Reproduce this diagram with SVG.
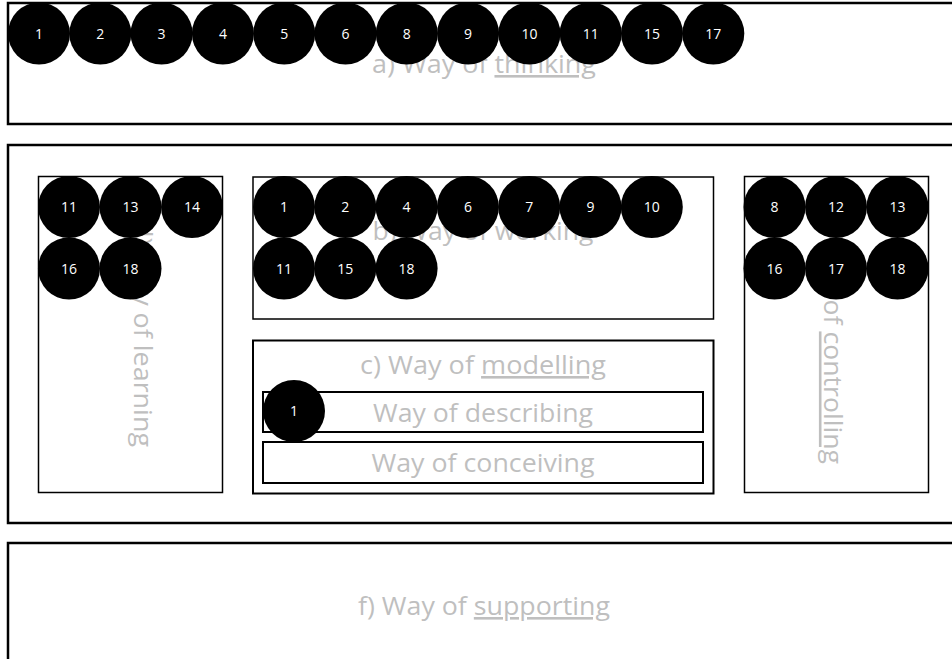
<svg xmlns="http://www.w3.org/2000/svg" width="952" height="659" viewBox="0 0 952 659">
<style>
.outer{fill:none;stroke:#000;stroke-width:2.5}
.inner{fill:#fff;stroke:#000;stroke-width:1.5}
.sub{fill:none;stroke:#000;stroke-width:2}
.lbl{font-family:"Open Sans","Noto Sans","Liberation Sans",sans-serif;font-size:26px;fill:#bfbfbf;text-anchor:middle}
.u{text-decoration:underline}
.dot{fill:#000}
.num{font-family:"Open Sans","Noto Sans","Liberation Sans",sans-serif;font-size:14px;fill:#fff;text-anchor:middle}
</style>
<rect width="952" height="659" fill="#fff"/>

<g id="a-thinking">
<rect class="outer" x="8" y="3" width="960" height="121"/>
<text class="lbl" x="484" y="73" textLength="224" lengthAdjust="spacingAndGlyphs">a) Way of <tspan class="u">thinking</tspan></text>
</g>

<g id="outer-middle">
<rect class="outer" x="8" y="145" width="960" height="378"/>
</g>

<g id="d-learning">
<rect class="inner" x="38.5" y="176.5" width="184" height="316"/>
<text class="lbl" transform="translate(134,334) rotate(90)" x="0" y="0" textLength="226" lengthAdjust="spacingAndGlyphs">d) Way of learning</text>
</g>

<g id="b-working">
<rect class="inner" x="253" y="177" width="460.5" height="142"/>
<text class="lbl" x="483" y="240" textLength="221" lengthAdjust="spacingAndGlyphs">b) Way of working</text>
</g>

<g id="c-modelling">
<rect class="inner" x="253" y="340.5" width="460.5" height="153" style="stroke-width:2"/>
<text class="lbl" x="483" y="374" textLength="246" lengthAdjust="spacingAndGlyphs">c) Way of <tspan class="u">modelling</tspan></text>
</g>

<g id="describing">
<rect class="sub" x="263" y="392" width="440" height="40"/>
<text class="lbl" x="483" y="421.5" textLength="220" lengthAdjust="spacingAndGlyphs">Way of describing</text>
</g>

<g id="conceiving">
<rect class="sub" x="263" y="442" width="440" height="41"/>
<text class="lbl" x="483" y="472" textLength="223" lengthAdjust="spacingAndGlyphs">Way of conceiving</text>
</g>

<g id="e-controlling">
<rect class="inner" x="744.5" y="176.5" width="184" height="316"/>
<text class="lbl" transform="translate(823.5,337) rotate(90)" x="0" y="0" textLength="254" lengthAdjust="spacingAndGlyphs">e) Way of <tspan class="u">controlling</tspan></text>
</g>

<g id="f-supporting">
<rect class="outer" x="8" y="543" width="960" height="130"/>
<text class="lbl" x="484" y="615" textLength="252" lengthAdjust="spacingAndGlyphs">f) Way of <tspan class="u">supporting</tspan></text>
</g>

<g id="connectors"></g>

<g id="markers-thinking">
<g id="t1"><circle class="dot" cx="39" cy="33.5" r="31"/><text class="num" x="39" y="38.5">1</text></g>
<g id="t2"><circle class="dot" cx="100.3" cy="33.5" r="31"/><text class="num" x="100.3" y="38.5">2</text></g>
<g id="t3"><circle class="dot" cx="161.6" cy="33.5" r="31"/><text class="num" x="161.6" y="38.5">3</text></g>
<g id="t4"><circle class="dot" cx="222.9" cy="33.5" r="31"/><text class="num" x="222.9" y="38.5">4</text></g>
<g id="t5"><circle class="dot" cx="284.2" cy="33.5" r="31"/><text class="num" x="284.2" y="38.5">5</text></g>
<g id="t6"><circle class="dot" cx="345.5" cy="33.5" r="31"/><text class="num" x="345.5" y="38.5">6</text></g>
<g id="t8"><circle class="dot" cx="406.8" cy="33.5" r="31"/><text class="num" x="406.8" y="38.5">8</text></g>
<g id="t9"><circle class="dot" cx="468.1" cy="33.5" r="31"/><text class="num" x="468.1" y="38.5">9</text></g>
<g id="t10"><circle class="dot" cx="529.4" cy="33.5" r="31"/><text class="num" x="529.4" y="38.5">10</text></g>
<g id="t11"><circle class="dot" cx="590.7" cy="33.5" r="31"/><text class="num" x="590.7" y="38.5">11</text></g>
<g id="t15"><circle class="dot" cx="652" cy="33.5" r="31"/><text class="num" x="652" y="38.5">15</text></g>
<g id="t17"><circle class="dot" cx="713.3" cy="33.5" r="31"/><text class="num" x="713.3" y="38.5">17</text></g>
</g>

<g id="markers-learning">
<g id="l11"><circle class="dot" cx="69" cy="207" r="31"/><text class="num" x="69" y="212">11</text></g>
<g id="l13"><circle class="dot" cx="130.5" cy="207" r="31"/><text class="num" x="130.5" y="212">13</text></g>
<g id="l14"><circle class="dot" cx="192" cy="207" r="31"/><text class="num" x="192" y="212">14</text></g>
<g id="l16"><circle class="dot" cx="69" cy="268.5" r="31"/><text class="num" x="69" y="273.5">16</text></g>
<g id="l18"><circle class="dot" cx="130.5" cy="268.5" r="31"/><text class="num" x="130.5" y="273.5">18</text></g>
</g>

<g id="markers-working">
<g id="w1"><circle class="dot" cx="284" cy="207" r="31"/><text class="num" x="284" y="212">1</text></g>
<g id="w2"><circle class="dot" cx="345.3" cy="207" r="31"/><text class="num" x="345.3" y="212">2</text></g>
<g id="w4"><circle class="dot" cx="406.6" cy="207" r="31"/><text class="num" x="406.6" y="212">4</text></g>
<g id="w6"><circle class="dot" cx="467.9" cy="207" r="31"/><text class="num" x="467.9" y="212">6</text></g>
<g id="w7"><circle class="dot" cx="529.2" cy="207" r="31"/><text class="num" x="529.2" y="212">7</text></g>
<g id="w9"><circle class="dot" cx="590.5" cy="207" r="31"/><text class="num" x="590.5" y="212">9</text></g>
<g id="w10"><circle class="dot" cx="651.8" cy="207" r="31"/><text class="num" x="651.8" y="212">10</text></g>
<g id="w11"><circle class="dot" cx="284" cy="268.5" r="31"/><text class="num" x="284" y="273.5">11</text></g>
<g id="w15"><circle class="dot" cx="345.3" cy="268.5" r="31"/><text class="num" x="345.3" y="273.5">15</text></g>
<g id="w18"><circle class="dot" cx="406.6" cy="268.5" r="31"/><text class="num" x="406.6" y="273.5">18</text></g>
</g>

<g id="markers-modelling">
<g id="m1"><circle class="dot" cx="294" cy="411" r="31"/><text class="num" x="294" y="416">1</text></g>
</g>

<g id="markers-controlling">
<g id="c8"><circle class="dot" cx="774.5" cy="207" r="31"/><text class="num" x="774.5" y="212">8</text></g>
<g id="c12"><circle class="dot" cx="836" cy="207" r="31"/><text class="num" x="836" y="212">12</text></g>
<g id="c13"><circle class="dot" cx="897.5" cy="207" r="31"/><text class="num" x="897.5" y="212">13</text></g>
<g id="c16"><circle class="dot" cx="774.5" cy="268.5" r="31"/><text class="num" x="774.5" y="273.5">16</text></g>
<g id="c17"><circle class="dot" cx="836" cy="268.5" r="31"/><text class="num" x="836" y="273.5">17</text></g>
<g id="c18"><circle class="dot" cx="897.5" cy="268.5" r="31"/><text class="num" x="897.5" y="273.5">18</text></g>
</g>
</svg>
